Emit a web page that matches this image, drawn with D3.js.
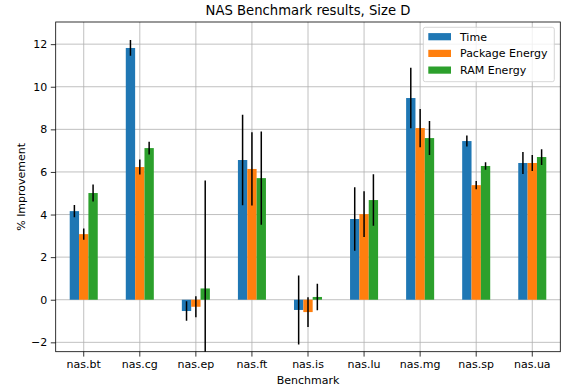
<!DOCTYPE html>
<html lang="en">
<head>
<meta charset="UTF-8">
<title>NAS Benchmark results, Size D</title>
<script src="https://d3js.org/d3.v7.min.js"></script>
<style>
  html, body { margin: 0; padding: 0; background: #fff; }
  svg { display: block; font-family: "DejaVu Sans", sans-serif; }
</style>
</head>
<body>
<div id="chart"></div>
<script>
// data
const benchmarks = ["nas.bt", "nas.cg", "nas.ep", "nas.ft", "nas.is", "nas.lu", "nas.mg", "nas.sp", "nas.ua"];
const seriesNames = ["Time", "Package Energy", "RAM Energy"];
const colors = ["#1f77b4", "#ff7f0e", "#2ca02c"];

const timeVals = [4.16, 11.82, -0.53, 6.56, -0.48, 3.79, 9.47, 7.45, 6.42];
const timeErr = [0.29, 0.37, 0.46, 2.12, 1.62, 1.49, 1.42, 0.26, 0.52];
const pkgVals = [3.08, 6.23, -0.33, 6.14, -0.58, 4.02, 8.06, 5.38, 6.42];
const pkgErr = [0.26, 0.35, 0.49, 1.72, 0.70, 1.07, 0.90, 0.19, 0.37];
const ramVals = [5.01, 7.12, 0.53, 5.71, 0.13, 4.68, 7.59, 6.28, 6.70];
const ramErr = [0.40, 0.30, 5.07, 2.19, 0.62, 1.21, 0.80, 0.18, 0.37];

const yTicks = [-2, 0, 2, 4, 6, 8, 10, 12];

const values = [timeVals, pkgVals, ramVals];
const errors = [timeErr, pkgErr, ramErr];

const W = 564, H = 390;
const margin = {top: 22, right: 3.7, bottom: 38.3, left: 55.7};
const width = W - margin.left - margin.right;
const height = H - margin.top - margin.bottom;
const fs = 11;

const svg = d3.select("#chart").append("svg")
    .attr("width", W)
    .attr("height", H);

const g = svg.append("g")
    .attr("transform", `translate(${margin.left},${margin.top})`);

const x = d3.scaleBand()
    .domain(benchmarks)
    .range([0, width])
    .paddingInner(0)
    .paddingOuter(0);

const groupWidth = x.bandwidth() * 0.5;
const xs = d3.scaleBand()
    .domain(seriesNames)
    .range([-groupWidth / 2, groupWidth / 2]);

const y = d3.scaleLinear()
    .domain([-2.44, 13.04])
    .range([height, 0]);

const cx = d => x(d) + x.bandwidth() / 2;

// clip so the long error bar stops at the axes
svg.append("defs").append("clipPath").attr("id", "plotclip")
    .append("rect").attr("width", width).attr("height", height);

// grid
g.append("g").selectAll("line").data(yTicks).enter().append("line")
    .attr("x1", 0).attr("x2", width)
    .attr("y1", d => y(d)).attr("y2", d => y(d))
    .attr("stroke", "#b0b0b0").attr("stroke-width", 0.8);
g.append("g").selectAll("line").data(benchmarks).enter().append("line")
    .attr("x1", cx).attr("x2", cx)
    .attr("y1", 0).attr("y2", height)
    .attr("stroke", "#b0b0b0").attr("stroke-width", 0.8);

const plot = g.append("g").attr("clip-path", "url(#plotclip)");

seriesNames.forEach((name, si) => {
    plot.append("g").selectAll("rect").data(benchmarks).enter().append("rect")
        .attr("x", d => cx(d) + xs(name))
        .attr("width", xs.bandwidth())
        .attr("y", (d, i) => y(Math.max(0, values[si][i])))
        .attr("height", (d, i) => Math.abs(y(values[si][i]) - y(0)))
        .attr("fill", colors[si]);
});

seriesNames.forEach((name, si) => {
    plot.append("g").selectAll("line").data(benchmarks).enter().append("line")
        .attr("x1", d => cx(d) + xs(name) + xs.bandwidth() / 2)
        .attr("x2", d => cx(d) + xs(name) + xs.bandwidth() / 2)
        .attr("y1", (d, i) => y(values[si][i] + errors[si][i]))
        .attr("y2", (d, i) => y(values[si][i] - errors[si][i]))
        .attr("stroke", "#000").attr("stroke-width", 1.5);
});

// axes
const yAxis = g.append("g")
    .call(d3.axisLeft(y).tickValues(yTicks).tickSize(4.9).tickPadding(3.5)
        .tickFormat(d => d < 0 ? "\u2212" + Math.abs(d) : d));
const xAxis = g.append("g")
    .attr("transform", `translate(0,${height})`)
    .call(d3.axisBottom(x).tickSize(4.9).tickPadding(3.5));

[yAxis, xAxis].forEach(a => {
    a.select(".domain").remove();
    a.selectAll("line").attr("stroke", "#000").attr("stroke-width", 0.8);
    a.selectAll("text").attr("font-size", fs).attr("fill", "#000")
        .attr("font-family", "DejaVu Sans, sans-serif");
});

g.append("rect")
    .attr("width", width).attr("height", height)
    .attr("fill", "none").attr("stroke", "#000").attr("stroke-width", 0.8);

// labels
g.append("text")
    .attr("x", width / 2).attr("y", -7)
    .attr("text-anchor", "middle")
    .attr("font-size", fs * 1.2)
    .text("NAS Benchmark results, Size D");

g.append("text")
    .attr("x", width / 2).attr("y", height + 32.5)
    .attr("text-anchor", "middle")
    .attr("font-size", fs)
    .text("Benchmark");

g.append("text")
    .attr("transform", `translate(${-31},${height / 2}) rotate(-90)`)
    .attr("text-anchor", "middle")
    .attr("font-size", fs)
    .text("% Improvement");

// legend
const lg = g.append("g").attr("transform", `translate(${423.3 - margin.left},${27.3 - margin.top})`);
lg.append("rect")
    .attr("width", 131).attr("height", 54.4).attr("rx", 2)
    .attr("fill", "#fff").attr("fill-opacity", 0.8)
    .attr("stroke", "#cccccc").attr("stroke-width", 0.8);
seriesNames.forEach((name, i) => {
    const row = lg.append("g").attr("transform", `translate(0,${9.4 + i * 16.7})`);
    row.append("rect")
        .attr("x", 5).attr("y", -3.6)
        .attr("width", 22.7).attr("height", 7.2)
        .attr("fill", colors[i]);
    row.append("text")
        .attr("x", 36.7).attr("y", 0).attr("dy", "0.35em")
        .attr("font-size", fs)
        .text(name);
});
</script>
</body>
</html>
